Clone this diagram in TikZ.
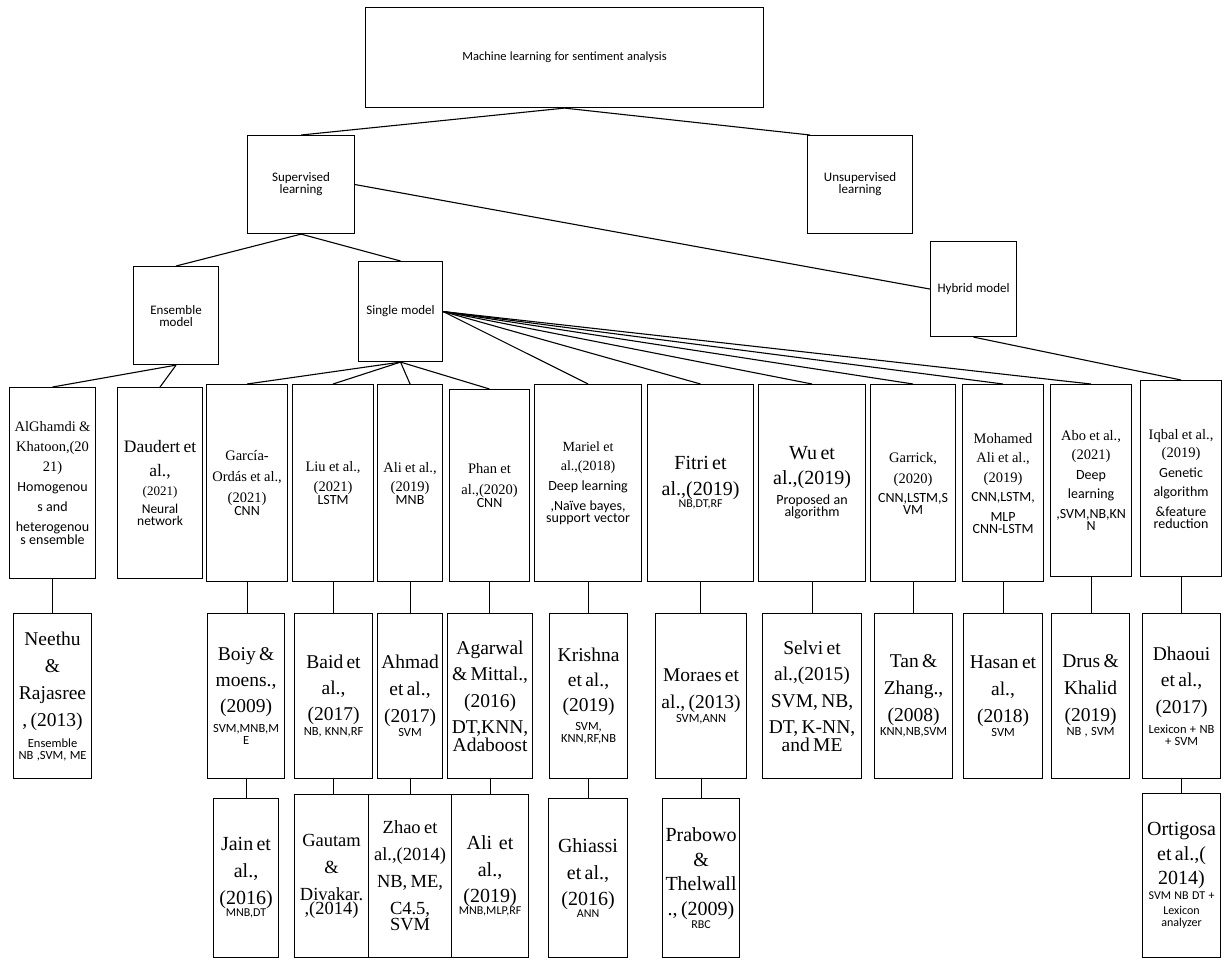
\documentclass[tikz,border=0pt]{standalone}
\usepackage{fontspec}
\setmainfont{Liberation Serif}
\newfontfamily\rmfam{Liberation Serif}
\newfontfamily\sffam{Carlito}
\newcommand\fR[2]{\rmfam\fontsize{#1pt}{#2pt}\selectfont}
\newcommand\fS[2]{\sffam\fontsize{#1pt}{#2pt}\selectfont}
\setlength\parindent{0pt}
\tikzset{
  box/.style={draw=black, line width=1.1pt, fill=white, anchor=north west, inner sep=0pt, align=center},
  conn/.style={draw=black, line width=1.1pt}
}
\newcommand\mkbox[6]{\node[box, minimum width=#4pt, minimum height=#5pt, text width=#4pt] (#1) at (#2,#3) {#6};}
\begin{document}
\begin{tikzpicture}[x=1pt,y=-1pt]
\useasboundingbox[fill=white] (0,0) rectangle (1225,959);
% top levels
\mkbox{root}{365}{7}{398}{100}{\fS{12.5}{16}Machine learning for sentiment analysis}
\mkbox{sup}{247}{135}{107}{98}{\fS{13}{17}Supervised\\learning}
\mkbox{unsup}{807}{135}{105}{98}{\fS{13}{17}Unsupervised\\learning}
\mkbox{ens}{133}{266}{85}{98}{\fS{13}{16.5}Ensemble\\model}
\mkbox{single}{358}{261}{84}{100}{\fS{13}{16}Single model}
\mkbox{hyb}{930}{241}{86}{95}{\fS{13}{16}Hybrid model}
% row 1
\mkbox{alg}{9}{387}{86}{191}{\fR{14.5}{20}AlGhamdi \&\\Khatoon,(20\\21)\par\fS{14}{20}Homogenou\\s and\\heterogenou\\s ensemble}
\mkbox{dau}{117}{387}{85}{191}{\fR{17.5}{24}Daudert et\\al.,\par\fR{13}{19}(2021)\par\fS{13.5}{17.5}Neural\\network}
\mkbox{gar}{206}{384}{81}{197}{\fR{14.5}{21}García-\\Ordás et al.,\\(2021)\par\fS{14}{18.5}CNN}
\mkbox{liu}{292}{384}{81}{197}{\fR{14.5}{20}Liu et al.,\\(2021)\par\fS{14}{19}LSTM}
\mkbox{ali}{377}{384}{65}{197}{\fR{14.5}{19}Ali et al.,\\(2019)\par\fS{14}{19}MNB}
\mkbox{phan}{449}{389}{80}{192}{\fR{14.5}{21.5}Phan et\\al.,(2020)\par\fS{14}{19}CNN}
\mkbox{mar}{534}{384}{107}{197}{\fR{14}{19.5}Mariel et\\al.,(2018)\par\fS{14}{20}Deep learning\\,Naïve bayes,\\support vector}
\mkbox{fit}{647}{384}{106}{197}{\fR{20}{26}Fitri et\\al.,(2019)\par\fS{12}{22}NB,DT,RF}
\mkbox{wu}{758}{384}{107}{197}{\fR{20}{25}Wu et\\al.,(2019)\par\fS{14}{20}Proposed an\\algorithm}
\mkbox{garr}{870}{384}{85}{197}{\fR{14.5}{21}Garrick,\\(2020)\par\fS{14}{19}CNN,LSTM,S\\VM}
\mkbox{moh}{962}{384}{81}{197}{\fR{14.5}{19.5}Mohamed\\Ali et al.,\\(2019)\par\fS{14}{19.5}CNN,LSTM,\\MLP\\CNN-LSTM}
\mkbox{abo}{1050}{384}{81}{192}{\fR{14.5}{19}Abo et al.,\\(2021)\par\fS{14}{19.5}Deep\\learning\\,SVM,NB,KN\\N}
\mkbox{iqb}{1140}{380}{81}{196}{\fR{14.5}{18.5}Iqbal et al.,\\(2019)\par\fS{14}{19.5}Genetic\\algorithm\\\&feature\\reduction}
% row 2
\mkbox{nee}{13}{613}{78}{165}{\fR{19.5}{27}Neethu\\\&\\Rajasree\\, (2013)\par\vspace{4pt}\fS{12.5}{17}Ensemble\\NB ,SVM, ME}
\mkbox{boiy}{207}{613}{77}{165}{\fR{19.5}{26}Boiy \&\\moens.,\\(2009)\par\vspace{2pt}\fS{12.5}{17.5}SVM,MNB,M\\E}
\mkbox{baid}{294}{613}{78}{165}{\fR{19.5}{26}Baid et\\al.,\\(2017)\par\vspace{2pt}\fS{12.5}{17}NB, KNN,RF}
\mkbox{ahm}{377}{613}{65}{165}{\fR{19.5}{27}Ahmad\\et al.,\\(2017)\par\vspace{1pt}\fS{12.5}{17}SVM}
\mkbox{aga}{447}{613}{85}{165}{\fR{19.5}{26.5}Agarwal\\\& Mittal.,\\(2016)\\DT,KNN,\\Adaboost}
\mkbox{kri}{549}{613}{78}{165}{\fR{19.5}{25}Krishna\\et al.,\\(2019)\par\vspace{2pt}\fS{12.5}{17.5}SVM,\\KNN,RF,NB}
\mkbox{mor}{655}{613}{91}{165}{\fR{19.5}{27}Moraes et\\al., (2013)\par\vspace{1pt}\fS{12.5}{17}SVM,ANN}
\mkbox{sel}{762}{613}{99}{165}{\fR{19.5}{26.5}Selvi et\\al.,(2015)\\SVM, NB,\\DT, K-NN,\\and ME}
\mkbox{tan}{874}{613}{78}{165}{\fR{19.5}{27}Tan \&\\Zhang.,\\(2008)\par\vspace{1pt}\fS{12.5}{17}KNN,NB,SVM}
\mkbox{has}{963}{613}{79}{165}{\fR{19.5}{27}Hasan et\\al.,\\(2018)\par\vspace{1pt}\fS{12.5}{17}SVM}
\mkbox{drus}{1051}{613}{78}{165}{\fR{19.5}{27}Drus \&\\Khalid\\(2019)\par\vspace{1pt}\fS{12.5}{17}NB , SVM}
\mkbox{dha}{1142}{613}{78}{165}{\fR{19.5}{26.5}Dhaoui\\et al.,\\(2017)\par\vspace{2pt}\fS{12.5}{18}Lexicon + NB\\+ SVM}
% row 3
\mkbox{jain}{213}{798}{65}{159}{\fR{20}{27}Jain et\\al.,\\(2016)\par\fS{12}{17}MNB,DT}
\mkbox{gau}{294}{794}{74}{163}{\fR{18.5}{27}Gautam\\\&\\Divakar.\\,(2014)}
\mkbox{zhao}{368}{794}{83}{163}{\fR{18.5}{27}Zhao et\\al.,(2014)\\NB, ME,\\C4.5,\\SVM}
\mkbox{alii}{451}{794}{77}{163}{\fR{20}{26.5}Ali\ \ et\\al.,\\(2019)\par\fS{12}{17}MNB,MLP,RF}
\mkbox{ghi}{548}{798}{79}{159}{\fR{20}{26.5}Ghiassi\\et al.,\\(2016)\par\fS{12}{17}ANN}
\mkbox{pra}{662}{798}{77}{159}{\fR{20}{24.5}Prabowo\\\&\\Thelwall\\., (2009)\par\fS{12}{17}RBC}
\mkbox{ort}{1142}{793}{78}{164}{\fR{20}{24.5}Ortigosa\\et al.,(\\2014)\par\fS{12}{15}SVM NB DT +\\Lexicon\\analyzer}
% connectors
\draw[conn] (root.south) -- (sup.north);
\draw[conn] (root.south) -- ([xshift=3pt]unsup.north west);
\draw[conn] (sup.east) -- (hyb.west);
\draw[conn] (sup.south) -- (ens.north);
\draw[conn] (sup.south) -- (single.north);
\draw[conn] (ens.south) -- (alg.north);
\draw[conn] (ens.south) -- (dau.north);
\foreach \t in {gar,liu,ali,phan} \draw[conn] (single.south) -- (\t.north);
\foreach \t in {mar,fit,wu,garr,moh,abo} \draw[conn] (single.east) -- (\t.north);
\draw[conn] (hyb.south) -- (iqb.north);
\foreach \a/\b in {alg/nee,gar/boiy,liu/baid,ali/ahm,phan/aga,mar/kri,fit/mor,wu/sel,garr/tan,moh/has,abo/drus,iqb/dha,boiy/jain,baid/gau,ahm/zhao,aga/alii,kri/ghi,mor/pra,dha/ort}
  \draw[conn] (\a.south) -- (\a.south |- \b.north);
\end{tikzpicture}
\end{document}
